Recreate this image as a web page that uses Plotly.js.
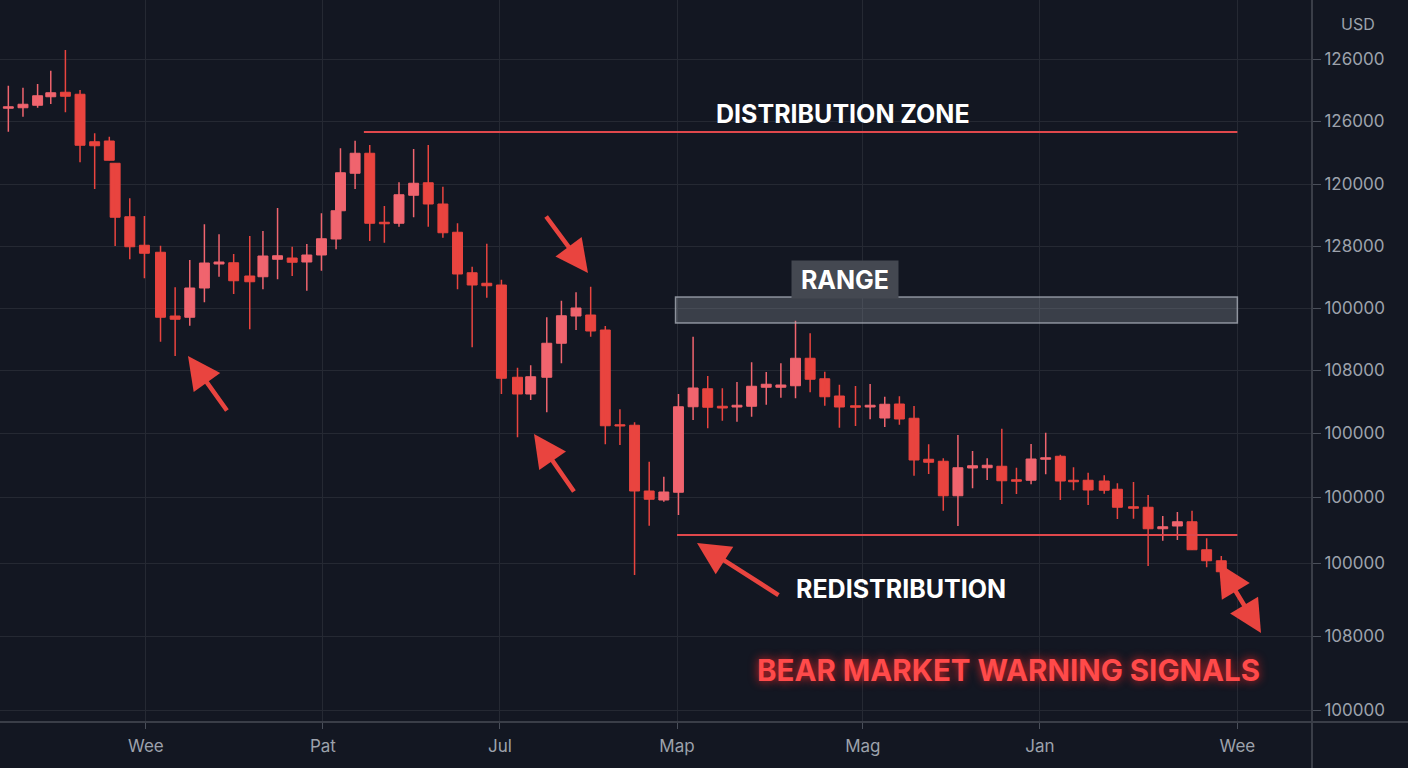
<!DOCTYPE html>
<html><head><meta charset="utf-8">
<script src="https://cdn.plot.ly/plotly-3.0.1.min.js"></script>
<style>html,body{margin:0;padding:0;background:#131722;} #chart{width:1408px;height:768px;}</style>
</head><body><div id="chart"></div>
<script>
// ---- data ----
const days = [0,1.0,2.0,2.9,3.9,4.9,5.9,6.9,7.3,8.3,9.3,10.4,11.4,12.4,13.4,14.4,15.4,16.5,17.4,18.4,19.4,20.4,21.4,22.4,22.7,23.7,24.7,25.7,26.7,27.7,28.7,29.7,30.7,31.7,32.7,33.7,34.8,35.7,36.8,37.8,38.8,39.8,40.8,41.8,42.8,43.8,44.8,45.8,46.8,47.8,48.8,49.8,50.8,51.8,52.8,53.8,54.8,55.8,56.8,57.9,58.9,59.9,60.9,61.9,62.9,63.9,64.9,65.9,66.9,67.9,68.9,69.9,70.9,71.9,72.8,73.8,74.9,75.8,76.9,77.9,78.9,79.9,80.9,81.9,82.9];
const open = [124070,124090,124190,124530,124710,124630,122730,122760,121870,119730,118590,118310,115760,115710,116880,117840,117890,117360,117330,118030,118080,117920,118200,118840,119970,121470,122270,119510,119470,120590,121090,120240,119110,117490,117070,117000,113310,112640,113310,114670,115760,115800,115200,111410,111390,108760,108400,108710,112130,112850,112150,112120,112150,112910,112910,112970,114070,113250,112560,112170,112120,111680,112240,111670,110030,109950,108570,109680,109690,109750,109210,109190,110030,110150,109190,109190,109160,108830,108130,108110,107250,107360,107530,106410,105970];
const high = [124970,124890,125040,125570,126400,124800,123070,122930,121870,120470,119760,118570,116910,118000,119430,119030,118240,118960,119160,120080,118530,118640,119870,119970,122470,122770,122600,120160,121110,122440,122600,120930,119470,117730,118650,117210,113690,113790,115710,116370,116710,116930,115360,112030,111510,109930,109330,112640,114930,113360,112870,113120,113910,113520,113870,115570,115070,113530,113010,112960,113040,112530,112550,112160,110630,110070,111000,110360,110070,111250,109690,110640,111090,110210,109710,109490,109390,109070,109120,108600,107760,107920,107970,106870,106160];
const low = [123130,123730,124090,124240,123910,121910,120840,121990,118560,118030,117270,114730,114160,115370,116310,117330,116640,115230,116830,117230,117360,116770,117570,118430,119970,120840,118760,118690,119330,119710,119330,118890,116830,114510,116490,112640,110910,112400,111910,113870,115200,114930,110630,110600,105400,107370,108330,107800,111600,111270,111570,111530,111730,112210,112490,112470,112710,112170,111290,111360,111630,111320,111410,109370,109440,107970,107360,108870,109200,108240,108640,109030,109430,108400,108790,108200,108650,107640,107650,105760,106770,106800,106400,105710,105530];
const close = [124130,124230,124570,124690,124550,122590,122570,121990,119710,118530,118270,115710,115630,116880,117880,117920,117170,117130,118160,118170,117910,118200,118850,119970,121490,122270,119470,119450,120610,121070,120240,119090,117440,117000,116970,113270,112640,113330,114670,115770,116080,115160,111370,111360,108760,108430,108720,112130,112880,112110,112080,112190,112950,113030,113000,114070,113230,112530,112120,112110,112190,112230,111640,110000,109910,108570,109690,109770,109790,109170,109150,110040,110090,109160,109130,108800,108790,108110,108070,107250,107330,107530,106410,105970,105530];

const xTickVals = [9.4, 21.5, 33.6, 45.7, 58.4, 70.5, 84.0];
const xTickText = ['Wee','Pat','Jul','Map','Mag','Jan','Wee'];
const yTickVals = [126040,123560,121040,118560,116080,113600,111080,108520,105880,102960,100000];
const yTickText = ['126000','126000','120000','128000','100000','108000','100000','100000','100000','108000','100000'];

const distributionLevel = 123120;
const redistributionLevel = 107000;
const rangeLow = 115480, rangeHigh = 116520;
const zoneStart = 24.3, rangeStart = 45.6, redistStart = 45.7, levelsEnd = 84.0;

// ---- styling ----
const BG = '#131722', GRID = '#252933', AXIS = '#3a3e48', TICK = '#9da2ac';
const UP = '#f0646e', DOWN = '#e9443f', ARROW = '#e9443f';
const FONT = 'Inter, Roboto, "Noto Sans", sans-serif';

const isUp = close.map((c, i) => c >= open[i]);
function idxOf(up) { return days.map((_, i) => i).filter(i => isUp[i] === up); }
function wickTrace(up) {
  const xs = [], ys = [];
  idxOf(up).forEach(i => { xs.push(days[i], days[i], null); ys.push(high[i], low[i], null); });
  return {type: 'scatter', mode: 'lines', x: xs, y: ys, line: {color: up ? UP : DOWN, width: 1.5}, hoverinfo: 'skip', connectgaps: false};
}
function bodyTrace(up) {
  const ids = idxOf(up);
  const col = up ? UP : DOWN;
  return {type: 'bar', x: ids.map(i => days[i]), base: ids.map(i => Math.min(open[i], close[i])),
    y: ids.map(i => Math.abs(close[i] - open[i])), width: 0.68,
    marker: {color: col, line: {color: col, width: 1}}, hoverinfo: 'skip'};
}
const traces = [wickTrace(false), wickTrace(true), bodyTrace(false), bodyTrace(true)];

const W = 1312, H = 722;
const px = x => x / W, py = y => (H - y) / H;
function label(x, y, text, font, extra) {
  return Object.assign({x: px(x), y: py(y), xref: 'paper', yref: 'paper', xanchor: 'center', yanchor: 'middle',
    showarrow: false, text: text, font: font}, extra || {});
}
function arrow(tx, ty, ax, ay, both) {
  const a = {x: px(tx), y: py(ty), xref: 'paper', yref: 'paper', text: '', showarrow: true,
    arrowcolor: ARROW, arrowwidth: 4.5, arrowhead: 2, arrowsize: 1.45, ax: ax, ay: ay};
  if (both) { a.arrowside = 'end+start'; a.startarrowhead = 2; a.startarrowsize = 1.45; }
  return a;
}

const layout = {
  width: 1408, height: 768,
  paper_bgcolor: BG, plot_bgcolor: BG,
  margin: {l: 0, r: 96, t: 0, b: 46},
  showlegend: false, barmode: 'overlay', bargap: 0,
  xaxis: {range: [-0.57, 89.1], tickmode: 'array', tickvals: xTickVals, ticktext: xTickText,
    showgrid: true, gridcolor: GRID, gridwidth: 1, zeroline: false, showline: false,
    ticks: 'outside', ticklen: 6, tickcolor: '#4a4f5a', ticklabelstandoff: 3,
    tickfont: {family: FONT, size: 17, color: TICK}, fixedrange: true},
  yaxis: {side: 'right', range: [99520, 128400], tickmode: 'array', tickvals: yTickVals, ticktext: yTickText,
    showgrid: true, gridcolor: GRID, gridwidth: 1, zeroline: false, showline: false,
    ticks: 'outside', ticklen: 8, tickcolor: '#4a4f5a',
    tickfont: {family: FONT, size: 17, color: TICK}, fixedrange: true},
  shapes: [
    {type: 'line', xref: 'paper', yref: 'paper', x0: 0, x1: 1408 / W, y0: 0, y1: 0, line: {color: AXIS, width: 2}},
    {type: 'line', xref: 'paper', yref: 'paper', x0: 1, x1: 1, y0: -46 / H, y1: 1, line: {color: AXIS, width: 2}},
    {type: 'line', xref: 'x', yref: 'y', x0: zoneStart, x1: levelsEnd, y0: distributionLevel, y1: distributionLevel, line: {color: '#e0484c', width: 2}},
    {type: 'rect', xref: 'x', yref: 'y', x0: rangeStart, x1: levelsEnd, y0: rangeLow, y1: rangeHigh,
      fillcolor: 'rgba(150,155,165,0.30)', line: {color: 'rgba(175,180,190,0.75)', width: 1.5}},
    {type: 'line', xref: 'x', yref: 'y', x0: redistStart, x1: levelsEnd, y0: redistributionLevel, y1: redistributionLevel, line: {color: '#e0484c', width: 2}}
  ],
  annotations: [
    label(843, 114, '<b>DISTRIBUTION ZONE</b>', {family: FONT, size: 25, color: '#ffffff'}),
    label(845, 279, '<b>RANGE</b>', {family: FONT, size: 25, color: '#ffffff'}, {bgcolor: '#444851', width: 98, height: 29, borderpad: 4}),
    label(901, 589, '<b>REDISTRIBUTION</b>', {family: FONT, size: 25, color: '#ffffff'}),
    label(1008, 670, '<b>BEAR MARKET WARNING SIGNALS</b>', {family: FONT, size: 29.5, color: '#ff4a4a', shadow: '0px 0px 10px rgba(255,40,40,0.85)'}),
    label(1358, 24, 'USD', {family: FONT, size: 16, color: TICK}),
    arrow(188, 356, 40, 56),
    arrow(588, 273, -43, -58),
    arrow(534, 434, 41, 59),
    arrow(697, 543, 83, 53),
    arrow(1261, 633, -43, -71, true)
  ]
};

Plotly.newPlot('chart', traces, layout, {displayModeBar: false, staticPlot: true});
</script>
</body></html>
